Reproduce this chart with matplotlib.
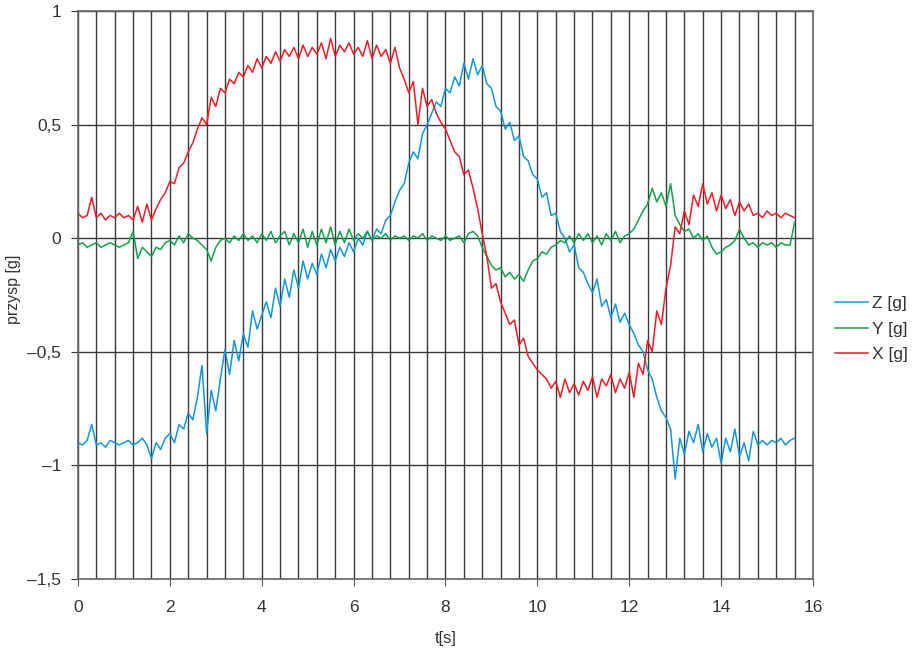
import numpy as np
import matplotlib.pyplot as plt
from matplotlib.ticker import MultipleLocator, FixedLocator, FixedFormatter

plt.rcParams['font.family'] = ['Liberation Sans', 'DejaVu Sans']

t = np.arange(157) * 0.1

x_g = [0.11, 0.09, 0.10, 0.18, 0.09, 0.11, 0.08, 0.10, 0.09, 0.11,
       0.09, 0.10, 0.08, 0.14, 0.07, 0.15, 0.08, 0.13, 0.17, 0.20,
       0.25, 0.24, 0.31, 0.33, 0.38, 0.42, 0.48, 0.53, 0.50, 0.62,
       0.58, 0.66, 0.64, 0.70, 0.68, 0.73, 0.71, 0.76, 0.73, 0.79,
       0.75, 0.80, 0.77, 0.82, 0.78, 0.83, 0.80, 0.84, 0.79, 0.85,
       0.80, 0.84, 0.81, 0.86, 0.79, 0.88, 0.80, 0.85, 0.82, 0.86,
       0.81, 0.84, 0.80, 0.87, 0.79, 0.85, 0.80, 0.83, 0.77, 0.84,
       0.75, 0.70, 0.64, 0.69, 0.50, 0.66, 0.58, 0.61, 0.55, 0.51,
       0.48, 0.43, 0.38, 0.36, 0.28, 0.30, 0.22, 0.13, 0.02, -0.08,
       -0.22, -0.20, -0.28, -0.33, -0.38, -0.36, -0.47, -0.44, -0.52, -0.55,
       -0.58, -0.60, -0.62, -0.66, -0.63, -0.70, -0.62, -0.68, -0.64, -0.69,
       -0.63, -0.67, -0.61, -0.70, -0.62, -0.65, -0.60, -0.68, -0.62, -0.66,
       -0.59, -0.70, -0.55, -0.60, -0.45, -0.50, -0.32, -0.38, -0.22, -0.12,
       0.05, 0.02, 0.12, 0.06, 0.19, 0.14, 0.24, 0.15, 0.20, 0.12,
       0.19, 0.13, 0.17, 0.10, 0.16, 0.12, 0.15, 0.10, 0.11, 0.09,
       0.12, 0.10, 0.11, 0.09, 0.11, 0.10, 0.09]

y_g = [-0.03, -0.02, -0.04, -0.03, -0.02, -0.04, -0.03, -0.02, -0.03, -0.04,
       -0.03, -0.02, 0.03, -0.09, -0.04, -0.06, -0.08, -0.04, -0.05, -0.02,
       -0.01, -0.03, 0.01, -0.02, 0.02, 0.00, -0.01, -0.03, -0.05, -0.10,
       -0.04, -0.01, 0.00, -0.02, 0.01, -0.01, 0.02, -0.01, 0.01, -0.02,
       0.02, -0.01, 0.03, -0.02, 0.01, 0.03, -0.03, 0.02, -0.02, 0.04,
       -0.04, 0.03, -0.03, 0.04, -0.02, 0.05, -0.03, 0.03, -0.02, 0.04,
       -0.01, 0.02, 0.00, 0.03, -0.01, 0.01, 0.00, 0.02, -0.01, 0.01,
       0.00, 0.01, -0.01, 0.01, 0.00, 0.02, -0.01, 0.01, 0.00, -0.01,
       0.01, -0.01, 0.00, 0.01, -0.02, 0.02, 0.03, 0.01, -0.04, -0.08,
       -0.12, -0.14, -0.13, -0.17, -0.15, -0.18, -0.16, -0.19, -0.14, -0.10,
       -0.09, -0.06, -0.07, -0.04, -0.03, -0.01, -0.02, 0.01, -0.02, 0.02,
       -0.01, 0.02, -0.02, 0.01, -0.03, 0.02, -0.01, 0.03, -0.02, 0.01,
       0.02, 0.04, 0.08, 0.12, 0.15, 0.22, 0.16, 0.20, 0.14, 0.24,
       0.10, 0.06, 0.03, 0.04, 0.00, 0.02, -0.01, 0.01, -0.04, -0.07,
       -0.06, -0.04, -0.03, -0.01, 0.04, 0.00, -0.03, -0.02, -0.04, -0.02,
       -0.03, -0.02, -0.04, -0.02, -0.03, -0.03, 0.07]

z_g = [-0.90, -0.91, -0.89, -0.82, -0.91, -0.90, -0.92, -0.89, -0.90, -0.91,
       -0.90, -0.89, -0.91, -0.90, -0.88, -0.91, -0.97, -0.90, -0.93, -0.88,
       -0.86, -0.90, -0.82, -0.84, -0.77, -0.80, -0.70, -0.56, -0.86, -0.67,
       -0.76, -0.62, -0.49, -0.60, -0.45, -0.54, -0.42, -0.48, -0.32, -0.40,
       -0.34, -0.28, -0.35, -0.22, -0.30, -0.18, -0.26, -0.14, -0.22, -0.10,
       -0.18, -0.11, -0.16, -0.07, -0.13, -0.05, -0.10, -0.04, -0.08, -0.02,
       -0.06, 0.00, -0.03, 0.03, -0.01, 0.04, 0.02, 0.08, 0.10, 0.16,
       0.21, 0.24, 0.33, 0.38, 0.35, 0.46, 0.50, 0.55, 0.60, 0.58,
       0.66, 0.64, 0.71, 0.67, 0.77, 0.70, 0.79, 0.72, 0.76, 0.68,
       0.66, 0.58, 0.56, 0.48, 0.51, 0.43, 0.45, 0.36, 0.34, 0.28,
       0.26, 0.18, 0.20, 0.10, 0.11, 0.03, 0.00, -0.06, -0.03, -0.13,
       -0.15, -0.20, -0.24, -0.18, -0.30, -0.27, -0.35, -0.29, -0.37, -0.33,
       -0.38, -0.42, -0.47, -0.50, -0.58, -0.62, -0.70, -0.76, -0.79, -0.84,
       -1.06, -0.88, -0.95, -0.85, -0.90, -0.82, -0.94, -0.86, -0.92, -0.88,
       -0.99, -0.88, -0.94, -0.84, -0.96, -0.90, -0.98, -0.85, -0.91, -0.89,
       -0.91, -0.89, -0.90, -0.88, -0.91, -0.89, -0.88]

y_ticks = [-1.5, -1, -0.5, 0, 0.5, 1]
y_tick_labels = ['–1,5', '–1', '–0,5', '0', '0,5', '1']

fig = plt.figure(figsize=(9.14, 6.48), dpi=100)
ax = fig.add_axes([0.0853, 0.1065, 0.8042, 0.8765])

ax.plot(t, z_g, color='#1396d8', lw=1.1, label='Z [g]')
ax.plot(t, y_g, color='#13a04c', lw=1.1, label='Y [g]')
ax.plot(t, x_g, color='#ec1c24', lw=1.1, label='X [g]')

ax.set_xlim(0, 16)
ax.set_ylim(-1.5, 1)
ax.xaxis.set_major_locator(MultipleLocator(2))
ax.xaxis.set_minor_locator(MultipleLocator(0.4))
ax.yaxis.set_major_locator(FixedLocator(y_ticks))
ax.yaxis.set_major_formatter(FixedFormatter(y_tick_labels))

ax.grid(True, which='both', axis='x', color='#3a3a3a', lw=1.0)
ax.grid(True, which='major', axis='y', color='#3a3a3a', lw=1.0)
ax.set_axisbelow(True)

ax.tick_params(axis='x', which='major', length=5, color='#555555', labelsize=12.5,
               labelcolor='#333333', pad=10)
ax.tick_params(axis='x', which='minor', length=0)
ax.tick_params(axis='y', length=5, color='#333333', labelsize=12.5,
               labelcolor='#333333', pad=7)
for s in ax.spines.values():
    s.set_color('#666666')
    s.set_linewidth(1.2)

ax.set_xlabel('t[s]', fontsize=12, color='#333333', labelpad=12)
ax.set_ylabel('przysp [g]', fontsize=11.5, color='#333333')
ax.yaxis.set_label_coords(-0.077, 0.51)

ax.legend(loc='center left', bbox_to_anchor=(1.03, 0.44), frameon=False,
          fontsize=12.5, handlelength=1.9, handletextpad=0.25,
          labelspacing=0.6, borderaxespad=0, borderpad=0,
          labelcolor='#333333')

plt.savefig('out.png', dpi=100)
